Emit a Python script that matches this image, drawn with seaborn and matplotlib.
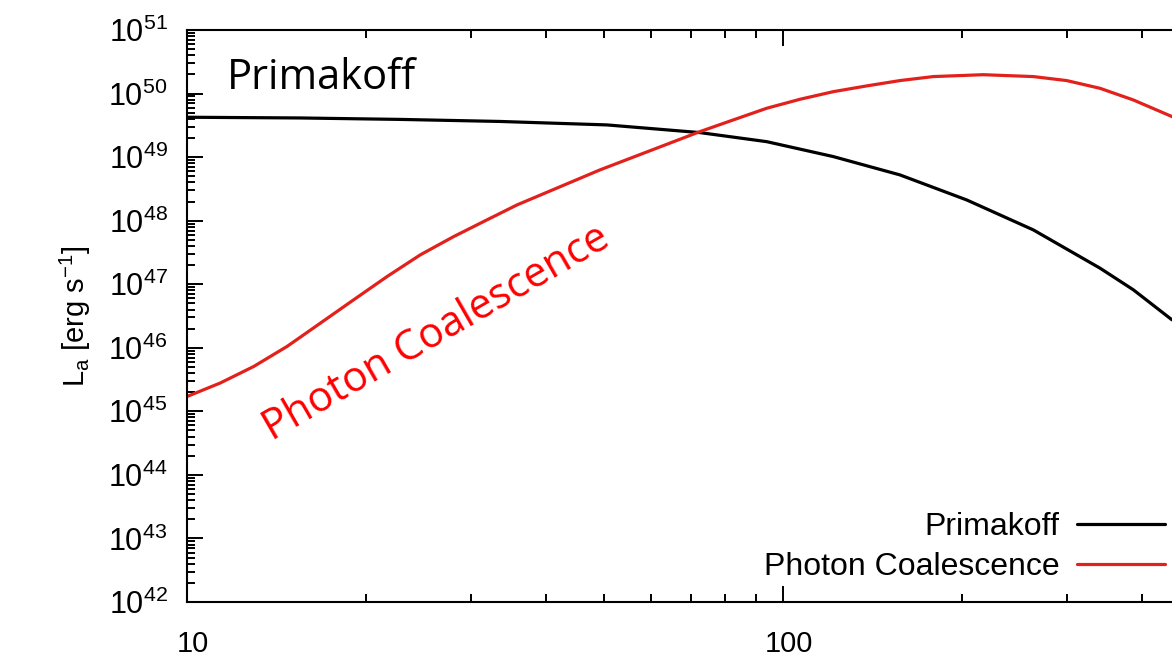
import numpy as np
import pandas as pd
import matplotlib
matplotlib.use("Agg")
import matplotlib.pyplot as plt
import matplotlib.ticker as mticker
from matplotlib.lines import Line2D
from matplotlib.transforms import ScaledTranslation
import seaborn as sns

# ---- data ----
prim_E = [10, 15.47, 22.77, 33.5, 50.66, 72.56, 93.9, 121.4, 157.1, 203.3, 263.0, 340.3, 387.1, 449.5]
prim_L = [4.24e49, 4.13e49, 3.92e49, 3.64e49, 3.21e49, 2.43e49, 1.75e49, 1.02e49,
          5.25e48, 2.12e48, 7.16e47, 1.79e47, 8.17e46, 2.75e46]
coal_E = [10, 11.37, 12.94, 14.72, 16.74, 19.04, 21.66, 24.63, 28.02, 31.87, 35.79,
          49.32, 72.56, 82.54, 93.9, 106.8, 121.4, 138.2, 157.1, 178.7, 216.8,
          263.0, 299.2, 340.3, 387.1, 449.5]
coal_L = [1.71e45, 2.79e45, 5.08e45, 1.05e46, 2.44e46, 5.69e46, 1.32e47, 2.90e47, 5.62e47,
          1.03e48, 1.77e48, 6.30e48, 2.52e49, 3.85e49, 5.87e49, 8.13e49, 1.07e50, 1.32e50,
          1.60e50, 1.85e50, 1.98e50, 1.85e50, 1.60e50, 1.21e50, 7.93e49, 4.34e49]
series_names = ["Primakoff", "Photon Coalescence"]
series_colors = ["#000000", "#e3211c"]
xtick_vals = [10, 100, 1000]
xtick_labels = ["10", "100", ""]
ytick_exps = list(range(42, 52))

df = pd.concat([
    pd.DataFrame({"E": prim_E, "L": prim_L, "process": series_names[0]}),
    pd.DataFrame({"E": coal_E, "L": coal_L, "process": series_names[1]}),
], ignore_index=True)

sns.set_style("ticks")
plt.rcParams["font.family"] = ["Liberation Sans", "DejaVu Sans"]
plt.rcParams["mathtext.fontset"] = "custom"
plt.rcParams["mathtext.rm"] = "Liberation Sans"
plt.rcParams["mathtext.it"] = "Liberation Sans:italic"
plt.rcParams["mathtext.bf"] = "Liberation Sans:bold"
for k in ["text.color", "axes.labelcolor", "xtick.color", "ytick.color", "axes.edgecolor"]:
    plt.rcParams[k] = "black"

W, H = 1172, 671
fig = plt.figure(figsize=(W / 100, H / 100), dpi=100)
ax_left, ax_right_px = 187, 187 + 2 * 596
ax_top, ax_bot = 30, 602
ax = fig.add_axes([ax_left / W, (H - ax_bot) / H, (ax_right_px - ax_left) / W, (ax_bot - ax_top) / H])

sns.lineplot(data=df, x="E", y="L", hue="process", hue_order=series_names,
             palette=dict(zip(series_names, series_colors)), linewidth=2.3,
             ax=ax, legend=False, sort=False)

ax.set_xscale("log")
ax.set_yscale("log")
ax.set_xlim(10, 1000)
ax.set_ylim(1e42, 1e51)

ax.xaxis.set_major_locator(mticker.FixedLocator(xtick_vals))
ax.xaxis.set_major_formatter(mticker.FixedFormatter(xtick_labels))
ax.xaxis.set_minor_locator(mticker.LogLocator(base=10, subs=np.arange(2, 10)))
ax.xaxis.set_minor_formatter(mticker.NullFormatter())
ax.yaxis.set_major_locator(mticker.FixedLocator([10.0 ** e for e in ytick_exps]))
ax.yaxis.set_major_formatter(mticker.LogFormatterSciNotation())
ax.yaxis.set_minor_locator(mticker.LogLocator(base=10, subs=np.arange(2, 10), numticks=20))
ax.yaxis.set_minor_formatter(mticker.NullFormatter())

for s in ["left", "bottom", "top"]:
    ax.spines[s].set_linewidth(1.5)
    ax.spines[s].set_color("black")
ax.spines["right"].set_visible(False)

ax.tick_params(which="both", direction="in", top=True, right=False, color="black", width=1.4)
ax.tick_params(which="major", length=11.5, labelcolor="black")
ax.tick_params(axis="y", which="major", labelsize=22, pad=14)
ax.tick_params(axis="x", which="major", labelsize=21, pad=20)
ax.tick_params(which="minor", length=5.5)

shift = ScaledTranslation(6 / 100, 0, fig.dpi_scale_trans)
for lab in ax.get_xticklabels():
    lab.set_transform(lab.get_transform() + shift)

ax.set_xlabel("")
ax.set_ylabel(r"L$_\mathregular{a}$ [erg s$^\mathregular{-1}$]", fontsize=21, labelpad=11, color="black")

fig.text(227 / W, (H - 89) / H, "Primakoff", fontsize=30, family=["Open Sans", "DejaVu Sans"],
         ha="left", va="baseline", color="black")
fig.text(436 / W, (H - 333) / H, "Photon Coalescence", fontsize=30, family=["Open Sans", "DejaVu Sans"],
         ha="center", va="center", rotation=30, rotation_mode="anchor", color="#ff0000")

handles = [Line2D([], [], color=c, linewidth=2.3) for c in series_colors]
leg = ax.legend(handles, series_names, loc="lower right", bbox_to_anchor=(1165 / W, 0.133),
                bbox_transform=fig.transFigure, frameon=False, markerfirst=False,
                fontsize=23, handlelength=2.75, handletextpad=0.55, labelspacing=0.3,
                borderpad=0, borderaxespad=0, labelcolor="black")

fig.savefig("out.png", dpi=100)
